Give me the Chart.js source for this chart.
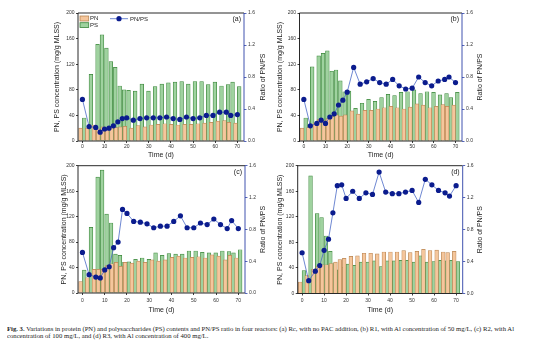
<!DOCTYPE html>
<html><head><meta charset="utf-8">
<script src="https://cdn.jsdelivr.net/npm/chart.js@4.4.1/dist/chart.umd.min.js"></script>
<style>
html,body{margin:0;padding:0;background:#fff;}
body{width:554px;height:352px;position:relative;overflow:hidden;}
canvas{position:absolute;}
#cap{position:absolute;left:7px;top:326px;font-family:"Liberation Serif",serif;font-size:6px;line-height:6.8px;color:#222;white-space:nowrap;transform-origin:0 0;}
</style></head><body>
<canvas id="ca" width="277" height="160" style="left:0px;top:0px;width:277px;height:160px"></canvas>
<canvas id="cb" width="282" height="160" style="left:272px;top:0px;width:282px;height:160px"></canvas>
<canvas id="cc" width="277" height="165" style="left:0px;top:150px;width:277px;height:165px"></canvas>
<canvas id="cd" width="282" height="165" style="left:272px;top:150px;width:282px;height:165px"></canvas>
<div id="cap"><span id="l1"><b>Fig. 3.</b> Variations in protein (PN) and polysaccharides (PS) contents and PN/PS ratio in four reactors: (a) Rc, with no PAC addition, (b) R1, with Al concentration of 50 mg/L, (c) R2, with Al</span><br>concentration of 100 mg/L, and (d) R3, with Al concentration of 400 mg/L.</div>
<script>
const days = [0,3,6,8,10,12,14,16,18,20,23,26,29,32,35,38,41,44,47,50,53,56,59,62,65,67,70];
const pnA = [20,20,25,19,22,20,22,21,22,23,20,24,22,25,26,27,26,25,26,26,27,28,29,31,32,29,28];
const psA = [36,104,151,166,145,124,115,86,80,79,78,89,78,85,89,91,92,93,89,93,93,88,92,86,88,92,85];
const ratioA = [0.52,0.18,0.17,0.11,0.15,0.16,0.19,0.24,0.28,0.29,0.26,0.28,0.29,0.29,0.29,0.30,0.28,0.27,0.30,0.28,0.29,0.32,0.32,0.36,0.36,0.32,0.33];
const pnB = [20,21,28,34,32,35,38,41,39,41,47,42,48,48,50,52,54,52,50,53,58,56,52,54,57,54,56];
const psB = [36,116,133,137,141,109,111,94,77,78,51,59,65,62,68,73,71,76,77,80,74,77,76,72,74,68,76];
const ratioB = [0.52,0.19,0.22,0.26,0.22,0.30,0.34,0.45,0.51,0.61,0.92,0.71,0.74,0.78,0.73,0.71,0.77,0.69,0.65,0.66,0.80,0.73,0.69,0.75,0.77,0.80,0.73];
const pnC = [18,24,37,37,37,43,46,48,42,48,47,50,48,52,50,52,56,58,55,56,57,55,60,58,52,59,55];
const psC = [36,103,182,193,124,110,61,59,48,49,53,55,53,63,59,62,61,61,66,66,64,63,63,66,65,63,68];
const ratioC = [0.51,0.23,0.20,0.19,0.29,0.33,0.57,0.64,1.05,1.00,0.90,0.89,0.87,0.82,0.84,0.84,0.90,0.97,0.82,0.82,0.88,0.86,0.93,0.86,0.81,0.91,0.81];
const pnD = [18,28,38,43,45,45,47,49,53,55,58,59,63,63,62,65,65,65,67,64,66,69,67,68,65,64,66];
const psD = [36,184,125,119,90,66,47,37,41,46,44,49,49,51,42,51,51,52,52,49,59,49,50,52,51,52,50];
const ratioD = [0.51,0.16,0.28,0.35,0.54,0.68,1.01,1.35,1.36,1.19,1.28,1.19,1.26,1.24,1.52,1.27,1.25,1.25,1.27,1.29,1.14,1.43,1.36,1.29,1.26,1.22,1.35];
const xTicks = [0,10,20,30,40,50,60,70];
const yTicks = [0,40,80,120,160,200];
const rTicks = [0,0.4,0.8,1.2,1.6];
const rightTitle = 'Ratio of PN/PS';

const PN_FILL = '#f5c69c', PN_EDGE = '#b88552';
const PS_FILL = '#9fd29f', PS_EDGE = '#3a863a';
const LINE_C = '#4a69c6', MARK_C = '#0b1c8e', RAX_C = '#2b3fa6';
const FONT = '"Liberation Sans", Arial, sans-serif';

const framePlugin = {
  id: 'frame',
  afterDatasetsDraw(chart, args, o) {
    const ctx = chart.ctx, a = chart.chartArea;
    ctx.save();
    ctx.lineWidth = 0.9;
    ctx.strokeStyle = '#111';
    ctx.beginPath();
    ctx.moveTo(a.right, a.top); ctx.lineTo(a.left, a.top);
    ctx.lineTo(a.left, a.bottom); ctx.lineTo(a.right, a.bottom);
    ctx.stroke();
    ctx.strokeStyle = RAX_C;
    ctx.beginPath(); ctx.moveTo(a.right, a.top); ctx.lineTo(a.right, a.bottom); ctx.stroke();
    ctx.font = '7px ' + FONT;
    ctx.fillStyle = '#222'; ctx.textAlign = 'right'; ctx.textBaseline = 'middle';
    ctx.fillText(o.label, a.right - 3, a.top + 6.5);
    // right axis title, reading bottom-to-top
    const r = chart.scales.y1;
    ctx.save();
    ctx.translate(r.right - 4.2, (a.top + a.bottom) / 2);
    ctx.rotate(-Math.PI / 2);
    ctx.textAlign = 'center';
    ctx.fillText(rightTitle, 0, 0);
    ctx.restore();
    if (o.legend) {
      const L = a.left, T = a.top;
      ctx.lineWidth = 0.8;
      ctx.fillStyle = PN_FILL; ctx.strokeStyle = PN_EDGE;
      ctx.fillRect(L + 2, T + 3, 8.7, 5); ctx.strokeRect(L + 2, T + 3, 8.7, 5);
      ctx.fillStyle = PS_FILL; ctx.strokeStyle = PS_EDGE;
      ctx.fillRect(L + 2, T + 9.7, 8.7, 4.8); ctx.strokeRect(L + 2, T + 9.7, 8.7, 4.8);
      ctx.font = '6px ' + FONT; ctx.fillStyle = '#222'; ctx.textAlign = 'left';
      ctx.fillText('PN', L + 12, T + 5.7);
      ctx.fillText('PS', L + 12, T + 12.2);
      ctx.strokeStyle = LINE_C; ctx.lineWidth = 0.8;
      ctx.beginPath(); ctx.moveTo(L + 32, T + 5.7); ctx.lineTo(L + 50, T + 5.7); ctx.stroke();
      ctx.fillStyle = MARK_C;
      ctx.beginPath(); ctx.arc(L + 41, T + 5.7, 2.6, 0, Math.PI * 2); ctx.fill();
      ctx.fillStyle = '#222';
      ctx.fillText('PN/PS', L + 52, T + 5.9);
    }
    ctx.restore();
  }
};

function pts(vals) { return days.map((d, i) => ({x: d, y: vals[i]})); }

function makeChart(id, pn, ps, ratio, L, label, legend) {
  return new Chart(document.getElementById(id), {
    data: {
      datasets: [
        {type: 'line', label: 'PN/PS', data: pts(ratio), yAxisID: 'y1', order: 0,
         borderColor: LINE_C, borderWidth: 0.8, pointBackgroundColor: MARK_C, pointBorderColor: MARK_C,
         pointRadius: 2.6, pointBorderWidth: 0, tension: 0},
        {type: 'bar', label: 'PN', data: pts(pn), yAxisID: 'y', order: 1,
         backgroundColor: PN_FILL, borderColor: PN_EDGE, borderWidth: 0.7, barThickness: 3.7},
        {type: 'bar', label: 'PS', data: pts(ps), yAxisID: 'y', order: 2,
         backgroundColor: PS_FILL, borderColor: PS_EDGE, borderWidth: 0.7, barThickness: 3.7}
      ]
    },
    options: {
      responsive: false, animation: false, devicePixelRatio: 1,
      layout: {padding: {left: L.pl, right: L.pr, top: L.pt, bottom: L.pb}},
      plugins: {legend: {display: false}, tooltip: {enabled: false}, frame: {label: label, legend: legend}},
      scales: {
        x: {type: 'linear', position: 'bottom', min: -2, max: 73, offset: false,
            afterBuildTicks: s => { s.ticks = xTicks.map(v => ({value: v})); },
            afterFit: s => { s.height = L.hx; },
            grid: {display: true, drawOnChartArea: false, drawTicks: true, tickLength: 2, color: '#111', lineWidth: 0.8, offset: false},
            border: {display: false},
            ticks: {font: {size: 5, family: FONT}, color: '#333', padding: L.xp, maxRotation: 0, autoSkip: false},
            title: {display: true, text: 'Time (d)', font: {size: 7, family: FONT}, color: '#222', padding: 0}},
        y: {type: 'linear', position: 'left', min: 0, max: 200,
            afterBuildTicks: s => { s.ticks = yTicks.map(v => ({value: v})); },
            afterFit: s => { s.width = L.wl; },
            grid: {display: true, drawOnChartArea: false, drawTicks: true, tickLength: 2, color: '#111', lineWidth: 0.8},
            border: {display: false},
            ticks: {font: {size: 5, family: FONT}, color: '#333', padding: 1.5},
            title: {display: true, text: 'PN, PS concentration (mg/g MLSS)', font: {size: 7, family: FONT}, color: '#222', padding: 0}},
        y1: {type: 'linear', position: 'right', min: 0, max: 1.6,
            afterBuildTicks: s => { s.ticks = rTicks.map(v => ({value: v})); },
            afterFit: s => { s.width = L.wr; },
            grid: {display: true, drawOnChartArea: false, drawTicks: true, tickLength: 2.5, color: RAX_C, lineWidth: 0.8},
            border: {display: false},
            ticks: {font: {size: 5, family: FONT}, color: '#333', padding: 1.5, callback: v => v.toFixed(1)},
            title: {display: false}}
      }
    },
    plugins: [framePlugin]
  });
}

makeChart('ca', pnA, psA, ratioA, {pl: 53, wl: 25, pr: 9.5, wr: 23.5, pt: 13, hx: 18.5, pb: 0.5, xp: 1}, '(a)', true);
makeChart('cb', pnB, psB, ratioB, {pl: 4.1, wl: 23.4, pr: 69.5, wr: 22.5, pt: 13, hx: 18.5, pb: 0.5, xp: 1}, '(b)', false);
makeChart('cc', pnC, psC, ratioC, {pl: 60, wl: 18, pr: 9.5, wr: 22.5, pt: 15.7, hx: 21.2, pb: 0.8, xp: 2.5}, '(c)', false);
makeChart('cd', pnD, psD, ratioD, {pl: 3.8, wl: 21.9, pr: 69.8, wr: 21.5, pt: 15.7, hx: 20.7, pb: 0.8, xp: 2.5}, '(d)', false);

// fit caption first line to the reference width
const l1 = document.getElementById('l1');
const w = l1.getBoundingClientRect().width;
document.getElementById('cap').style.transform = 'scaleX(' + (507 / w) + ')';
</script>
</body></html>
